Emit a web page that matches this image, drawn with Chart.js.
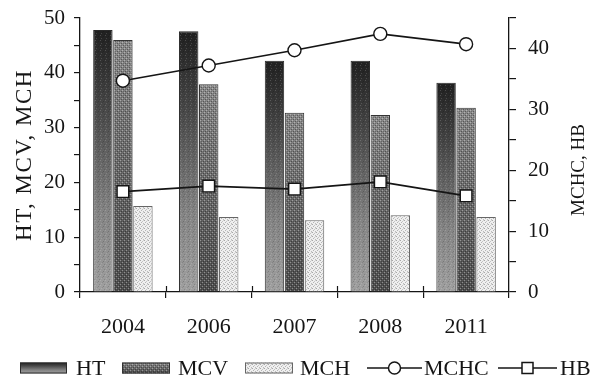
<!DOCTYPE html>
<html><head><meta charset="utf-8">
<script src="https://cdn.jsdelivr.net/npm/chart.js@4"></script>
<style>html,body{margin:0;padding:0;background:#fff;}#wrap{width:594px;height:376px;}</style>
</head><body><div id="wrap"><canvas id="c" width="594" height="376"></canvas></div>
<script>
const categories = ['2004', '2006', '2007', '2008', '2011'];
const htValues = [47.8, 47.6, 42.2, 42.2, 38.2];
const mcvValues = [46.0, 37.9, 32.7, 32.3, 33.6];
const mchValues = [15.7, 13.7, 13.1, 14.0, 13.7];
const mchcValues = [34.7, 37.2, 39.7, 42.4, 40.7];
const hbValues = [16.5, 17.4, 16.9, 18.1, 15.8];
const leftTicks = [0, 10, 20, 30, 40, 50];
const rightTicks = [0, 10, 20, 30, 40];
const seriesNames = ['HT', 'MCV', 'MCH', 'MCHC', 'HB'];
const leftTitle = 'HT, MCV, MCH';
const rightTitle = 'MCHC, HB';

const FONT = '"Liberation Serif", "Times New Roman", serif';
const INK = '#151515';
const canvas = document.getElementById('c');
const ctx2d = canvas.getContext('2d');

function makePattern(size, base, dots) {
  const t = document.createElement('canvas');
  t.width = size; t.height = size;
  const g = t.getContext('2d');
  if (base) { g.fillStyle = base; g.fillRect(0, 0, size, size); }
  dots.forEach(d => { g.fillStyle = d[2]; g.fillRect(d[0], d[1], 1, 1); });
  return ctx2d.createPattern(t, 'repeat');
}
// crosshatch texture overlay for MCV bars (transparent background)
const mcvTexture = makePattern(4, null, [[0,0,'rgba(255,255,255,0.35)'],[2,2,'rgba(255,255,255,0.35)'],[1,3,'rgba(0,0,0,0.35)'],[3,1,'rgba(0,0,0,0.35)'],[1,1,'rgba(0,0,0,0.2)'],[3,3,'rgba(0,0,0,0.2)']]);
// light noise overlay for HT bars
const htTexture = makePattern(5, null, [[0,0,'rgba(255,255,255,0.18)'],[3,1,'rgba(0,0,0,0.18)'],[1,3,'rgba(255,255,255,0.15)'],[4,4,'rgba(0,0,0,0.15)'],[2,2,'rgba(0,0,0,0.1)']]);
// stipple pattern for MCH
const mchPattern = makePattern(4, '#efefef', [[0,0,'#a8a8a8'],[2,1,'#c4c4c4'],[1,2,'#b4b4b4'],[3,3,'#bcbcbc'],[3,0,'#d4d4d4']]);

function htGradient(c, top, bot) {
  const g = c.createLinearGradient(0, top, 0, bot);
  g.addColorStop(0, '#202020');
  g.addColorStop(0.3, '#484848');
  g.addColorStop(0.7, '#858585');
  g.addColorStop(1, '#a0a0a0');
  return g;
}
function mcvGradient(c, top, bot) {
  const g = c.createLinearGradient(0, top, 0, bot);
  g.addColorStop(0, '#8a8a8a');
  g.addColorStop(0.5, '#6a6a6a');
  g.addColorStop(1, '#4e4e4e');
  return g;
}
function barFill(maker) {
  return ctx => {
    const chart = ctx.chart;
    if (!chart.chartArea || ctx.raw === undefined) return '#666';
    const ys = chart.scales.y;
    return maker(chart.ctx, ys.getPixelForValue(ctx.raw), ys.getPixelForValue(0));
  };
}

const legendLayout = [
  {x: 20, w: 47, tx: 76},
  {x: 122, w: 48, tx: 178},
  {x: 245, w: 48, tx: 300},
  {x: 367, w: 55, tx: 424},
  {x: 498, w: 59, tx: 560}
];

const customPlugin = {
  id: 'customDecor',
  afterDatasetDraw(chart, args) {
    const tex = args.index === 0 ? htTexture : (args.index === 1 ? mcvTexture : null);
    if (!tex) return;
    const c = chart.ctx;
    c.save();
    c.fillStyle = tex;
    args.meta.data.forEach(el => {
      const p = el.getProps(['x', 'y', 'base', 'width'], true);
      c.fillRect(p.x - p.width / 2 + 1, p.y + 1, p.width - 2, p.base - p.y - 1);
    });
    c.restore();
  },
  afterDraw(chart) {
    const c = chart.ctx;
    const area = chart.chartArea;
    c.save();
    c.fillStyle = INK;
    c.textBaseline = 'middle';
    // x-axis tick marks crossing the axis line
    c.strokeStyle = INK; c.lineWidth = 1.2;
    const xs = chart.scales.x;
    for (let i = 1; i < categories.length; i++) {
      const px = Math.round((xs.getPixelForTick(i - 1) + xs.getPixelForTick(i)) / 2) + 0.5;
      c.beginPath(); c.moveTo(px, area.bottom - 6); c.lineTo(px, area.bottom); c.stroke();
    }
    // axis titles
    c.save();
    c.font = '23px ' + FONT;
    try { c.letterSpacing = '1.5px'; } catch (e) {}
    c.textAlign = 'center';
    c.translate(25, (area.top + area.bottom) / 2);
    c.rotate(-Math.PI / 2);
    c.fillText(leftTitle, 0, 0);
    c.restore();
    c.save();
    c.font = '19px ' + FONT;
    c.textAlign = 'center';
    c.translate(579, 170);
    c.rotate(-Math.PI / 2);
    c.fillText(rightTitle, 0, 0);
    c.restore();
    // legend
    const ly = 368;
    c.font = '22px ' + FONT;
    c.textAlign = 'left';
    const ds = chart.data.datasets;
    legendLayout.forEach((L, i) => {
      const d = ds[i];
      if (i < 3) {
        const h = 11, top = ly - h / 2;
        if (i === 0) c.fillStyle = htGradient(c, top, top + h);
        else if (i === 1) c.fillStyle = mcvGradient(c, top, top + h);
        else c.fillStyle = d.backgroundColor;
        c.fillRect(L.x, top, L.w, h);
        if (i === 1) { c.fillStyle = mcvTexture; c.fillRect(L.x, top, L.w, h); }
        c.strokeStyle = d.borderColor; c.lineWidth = 1;
        c.strokeRect(L.x + 0.5, top + 0.5, L.w - 1, h - 1);
      } else {
        c.strokeStyle = d.borderColor; c.lineWidth = d.borderWidth;
        c.beginPath(); c.moveTo(L.x, ly); c.lineTo(L.x + L.w, ly); c.stroke();
        const cx = L.x + L.w / 2;
        c.fillStyle = '#fff'; c.lineWidth = 1.5;
        c.beginPath();
        if (d.pointStyle === 'circle') c.arc(cx, ly, 6, 0, Math.PI * 2);
        else c.rect(cx - 5.5, ly - 5.5, 11, 11);
        c.fill(); c.stroke();
      }
      c.fillStyle = INK;
      c.fillText(d.label, L.tx, ly + 1);
    });
    c.restore();
  }
};

const tickFont = {family: FONT, size: 21};
function noPad(s) { s.paddingTop = 0; s.paddingBottom = 0; }

new Chart(canvas, {
  type: 'bar',
  data: {
    labels: categories,
    datasets: [
      {label: seriesNames[0], data: htValues, yAxisID: 'y', backgroundColor: barFill(htGradient), borderColor: '#2a2a2a', borderWidth: 1, order: 2},
      {label: seriesNames[1], data: mcvValues, yAxisID: 'y', backgroundColor: barFill(mcvGradient), borderColor: '#333', borderWidth: 1, order: 2},
      {label: seriesNames[2], data: mchValues, yAxisID: 'y', backgroundColor: mchPattern, borderColor: '#666', borderWidth: 1, order: 2},
      {type: 'line', label: seriesNames[3], data: mchcValues, yAxisID: 'y1', borderColor: INK, borderWidth: 1.7,
       pointStyle: 'circle', pointRadius: 6.5, pointBackgroundColor: '#fff', pointBorderColor: INK, pointBorderWidth: 1.4, tension: 0, order: 0},
      {type: 'line', label: seriesNames[4], data: hbValues, yAxisID: 'y1', borderColor: INK, borderWidth: 1.7,
       pointStyle: 'rect', pointRadius: 8.2, pointBackgroundColor: '#fff', pointBorderColor: INK, pointBorderWidth: 1.4, tension: 0, order: 0}
    ]
  },
  options: {
    responsive: false,
    animation: false,
    devicePixelRatio: 1,
    layout: {padding: {left: 0, right: 0, top: 18, bottom: 0}},
    plugins: {legend: {display: false}, tooltip: {enabled: false}},
    datasets: {bar: {categoryPercentage: 0.7, barPercentage: 0.97}},
    scales: {
      x: {
        grid: {offset: true, drawOnChartArea: false, tickLength: 6, color: INK, lineWidth: 1.2},
        border: {color: INK, width: 1.3},
        ticks: {font: {family: FONT, size: 22}, color: INK, padding: 16},
        afterFit: s => { s.height = 84; }
      },
      y: {
        position: 'left', min: 0, max: 50,
        grid: {drawOnChartArea: false, tickLength: 6, color: INK, lineWidth: 1.2},
        border: {color: INK, width: 1.3},
        ticks: {stepSize: 5, autoSkip: false, font: tickFont, color: INK, padding: 9,
          callback: v => leftTicks.includes(v) ? String(v) : ''},
        afterFit: s => { s.width = 80; noPad(s); }
      },
      y1: {
        position: 'right', min: 0, max: 45,
        grid: {drawOnChartArea: false, tickLength: 7, color: INK, lineWidth: 1.2},
        border: {color: INK, width: 1.3},
        ticks: {stepSize: 5, autoSkip: false, font: tickFont, color: INK, padding: 12,
          callback: v => rightTicks.includes(v) ? String(v) : ''},
        afterFit: s => { s.width = 85; noPad(s); }
      }
    }
  },
  plugins: [customPlugin]
});
</script>
</body></html>
